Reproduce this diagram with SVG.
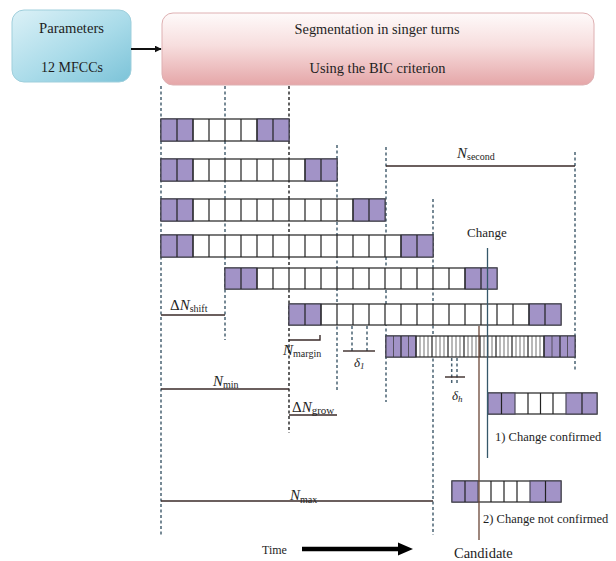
<svg xmlns="http://www.w3.org/2000/svg" width="616" height="561" viewBox="0 0 616 561">
<defs>
<linearGradient id="gParam" x1="0" y1="0" x2="1" y2="1">
<stop offset="0" stop-color="#dcf1f7"/><stop offset="0.55" stop-color="#a9dbe9"/><stop offset="1" stop-color="#7cc3d8"/>
</linearGradient>
<linearGradient id="gPink" x1="0" y1="0" x2="0" y2="1">
<stop offset="0" stop-color="#fefafa"/><stop offset="0.45" stop-color="#f7dede"/><stop offset="1" stop-color="#e5a6a8"/>
</linearGradient>
<marker id="ah" viewBox="0 0 10 10" refX="9" refY="5" markerWidth="7" markerHeight="7" orient="auto" markerUnits="userSpaceOnUse">
<path d="M0,0 L10,5 L0,10 z" fill="#111"/>
</marker>
<style>
.t{font-family:"Liberation Serif","Times New Roman",serif;fill:#1e1e1e}
.w{fill:#fff;stroke:#222;stroke-width:1.2}
.p{fill:#a293c7;stroke:#4a4858;stroke-width:1.2}
.cl{stroke:#222;stroke-width:1.2;fill:none}
.fl{stroke:#333;stroke-width:0.7;fill:none}
.d{stroke:#4a6373;stroke-width:1.5;stroke-dasharray:3 2.5;fill:none}
.dd{stroke:#2c2c2c;stroke-width:1.5;stroke-dasharray:3 2.5;fill:none}
.ln{stroke:#3a2a28;stroke-width:1.4;fill:none}
</style>
</defs>
<rect width="616" height="561" fill="#fff"/>

<g id="params">
<rect x="12" y="10" width="119" height="72" rx="12" fill="url(#gParam)" stroke="#9fcfdc" stroke-width="1"/>
<text class="t" x="71.5" y="33" font-size="15" text-anchor="middle" textLength="65" lengthAdjust="spacingAndGlyphs">Parameters</text>
<text class="t" x="72" y="72" font-size="15" text-anchor="middle" textLength="62" lengthAdjust="spacingAndGlyphs">12 MFCCs</text>
</g>

<g id="segmentation">
<rect x="162" y="13" width="432" height="72" rx="11" fill="url(#gPink)" stroke="#deb0b2" stroke-width="1"/>
<text class="t" x="377" y="34" font-size="15" text-anchor="middle" textLength="165" lengthAdjust="spacingAndGlyphs">Segmentation in singer turns</text>
<text class="t" x="377.5" y="73" font-size="15" text-anchor="middle" textLength="136" lengthAdjust="spacingAndGlyphs">Using the BIC criterion</text>
</g>

<g id="connectors">
<line x1="131" y1="49" x2="161" y2="49" stroke="#111" stroke-width="2" marker-end="url(#ah)"/>
</g>

<g id="guides">
<line class="d" x1="161" y1="86" x2="161" y2="535"/>
<line class="d" x1="225" y1="86" x2="225" y2="340"/>
<line class="dd" x1="289" y1="86" x2="289" y2="433"/>
<line class="d" x1="337" y1="145" x2="337" y2="390"/>
<line class="d" x1="386" y1="147" x2="386" y2="402"/>
<line class="d" x1="433" y1="199" x2="433" y2="535"/>
<line class="d" x1="575" y1="152" x2="575" y2="372"/>
</g>

<g id="row1">
<rect class="w" x="161" y="119" width="128" height="22"/>
<rect class="p" x="161" y="119" width="32" height="22"/>
<rect class="p" x="257" y="119" width="32" height="22"/>
<path class="cl" d="M177 119v22M193 119v22M209 119v22M225 119v22M241 119v22M257 119v22M273 119v22"/>
</g>
<g id="row2">
<rect class="w" x="161" y="159" width="176" height="22"/>
<rect class="p" x="161" y="159" width="32" height="22"/>
<rect class="p" x="305" y="159" width="32" height="22"/>
<path class="cl" d="M177 159v22M193 159v22M209 159v22M225 159v22M241 159v22M257 159v22M273 159v22M289 159v22M305 159v22M321 159v22"/>
</g>
<g id="row3">
<rect class="w" x="161" y="199" width="224" height="22"/>
<rect class="p" x="161" y="199" width="32" height="22"/>
<rect class="p" x="353" y="199" width="32" height="22"/>
<path class="cl" d="M177 199v22M193 199v22M209 199v22M225 199v22M241 199v22M257 199v22M273 199v22M289 199v22M305 199v22M321 199v22M337 199v22M353 199v22M369 199v22"/>
</g>
<g id="row4">
<rect class="w" x="161" y="235" width="272" height="22"/>
<rect class="p" x="161" y="235" width="32" height="22"/>
<rect class="p" x="401" y="235" width="32" height="22"/>
<path class="cl" d="M177 235v22M193 235v22M209 235v22M225 235v22M241 235v22M257 235v22M273 235v22M289 235v22M305 235v22M321 235v22M337 235v22M353 235v22M369 235v22M385 235v22M401 235v22M417 235v22"/>
</g>
<g id="row5">
<rect class="w" x="225" y="268" width="272" height="21"/>
<rect class="p" x="225" y="268" width="32" height="21"/>
<rect class="p" x="465" y="268" width="32" height="21"/>
<path class="cl" d="M241 268v21M257 268v21M273 268v21M289 268v21M305 268v21M321 268v21M337 268v21M353 268v21M369 268v21M385 268v21M401 268v21M417 268v21M433 268v21M449 268v21M465 268v21M481 268v21"/>
</g>
<g id="row6">
<rect class="w" x="289" y="304" width="272" height="21"/>
<rect class="p" x="289" y="304" width="32" height="21"/>
<rect class="p" x="529" y="304" width="32" height="21"/>
<path class="cl" d="M305 304v21M321 304v21M337 304v21M353 304v21M369 304v21M385 304v21M401 304v21M417 304v21M433 304v21M449 304v21M465 304v21M481 304v21M497 304v21M513 304v21M529 304v21M545 304v21"/>
</g>
<g id="row7">
<rect class="w" x="386" y="336" width="189" height="21"/>
<rect class="p" x="386" y="336" width="30" height="21"/>
<rect class="p" x="544" y="336" width="31" height="21"/>
<path class="fl" d="M393.5 336v21M408.5 336v21M552 336v21M567.5 336v21M420 336v21M424 336v21M428 336v21M436 336v21M440 336v21M444 336v21M452 336v21M456 336v21M460 336v21M468 336v21M472 336v21M476 336v21M484 336v21M488 336v21M492 336v21M500 336v21M504 336v21M508 336v21M516 336v21M520 336v21M524 336v21M532 336v21M536 336v21M540 336v21"/>
<path class="cl" d="M401 336v21M416 336v21M432 336v21M448 336v21M464 336v21M480 336v21M496 336v21M512 336v21M528 336v21M544 336v21M560 336v21"/>
</g>

<g id="annotations">
<line class="ln" x1="386" y1="166" x2="575" y2="166" stroke="#2e4f5e"/>
<text class="t" x="457" y="158" font-size="15"><tspan font-style="italic">N</tspan><tspan font-size="10" dy="2">second</tspan></text>

<line class="ln" x1="161" y1="315" x2="225" y2="315"/>
<text class="t" x="170" y="310" font-size="15">Δ<tspan font-style="italic">N</tspan><tspan font-size="10" dy="2">shift</tspan></text>

<path class="ln" d="M289 340H320V335"/>
<text class="t" x="283" y="355" font-size="15"><tspan font-style="italic">N</tspan><tspan font-size="10" dy="2">margin</tspan></text>

<path class="d" d="M352 326V352M367 326V352" stroke-dasharray="2.5 2"/>
<line class="ln" x1="343" y1="351" x2="375" y2="351"/>
<text class="t" x="354" y="367" font-size="13" font-style="italic">δ<tspan font-size="9" dy="2">1</tspan></text>

<path class="d" d="M451.7 358V385M457 358V385" stroke-dasharray="2.5 2"/>
<line class="ln" x1="445" y1="377" x2="465" y2="377"/>
<text class="t" x="452" y="400" font-size="13" font-style="italic">δ<tspan font-size="9" dy="2">h</tspan></text>

<line class="ln" x1="161" y1="389" x2="289" y2="389"/>
<text class="t" x="213" y="386" font-size="15"><tspan font-style="italic">N</tspan><tspan font-size="10" dy="2">min</tspan></text>

<line class="ln" x1="289" y1="415" x2="337" y2="415"/>
<text class="t" x="292" y="412" font-size="15">Δ<tspan font-style="italic">N</tspan><tspan font-size="11" dy="2">grow</tspan></text>

<line class="ln" x1="161" y1="501" x2="433" y2="501"/>
<text class="t" x="290" y="500" font-size="15"><tspan font-style="italic">N</tspan><tspan font-size="10" dy="3">max</tspan></text>
</g>

<g id="change-confirmed">
<rect class="w" x="488" y="393" width="109" height="21"/>
<rect class="p" x="488" y="393" width="27" height="21"/>
<rect class="p" x="566" y="393" width="31" height="21"/>
<path class="cl" d="M501.5 393v21M528 393v21M540.5 393v21M553 393v21M582 393v21"/>
<text class="t" x="495" y="441" font-size="12.5">1) Change confirmed</text>
</g>

<g id="change-not-confirmed">
<rect class="w" x="452" y="481" width="109" height="21"/>
<rect class="p" x="452" y="481" width="26" height="21"/>
<rect class="p" x="530" y="481" width="31" height="21"/>
<path class="cl" d="M465 481v21M491 481v21M504 481v21M517 481v21M545.5 481v21"/>
<text class="t" x="483" y="523" font-size="12.5">2) Change not confirmed</text>
</g>

<g id="change-candidate">
<line x1="487.5" y1="248" x2="487.5" y2="458" stroke="#35586a" stroke-width="1.3"/>
<text class="t" x="467" y="237" font-size="13">Change</text>
<line x1="479" y1="326" x2="479" y2="540" stroke="#6a4636" stroke-width="1.3"/>
<text class="t" x="454" y="558" font-size="14.5">Candidate</text>
</g>

<g id="time">
<text class="t" x="262" y="554" font-size="12">Time</text>
<line x1="302" y1="549" x2="400" y2="549" stroke="#000" stroke-width="4.5"/>
<polygon points="398,542.5 413,549 398,555.5" fill="#000"/>
</g>
</svg>
